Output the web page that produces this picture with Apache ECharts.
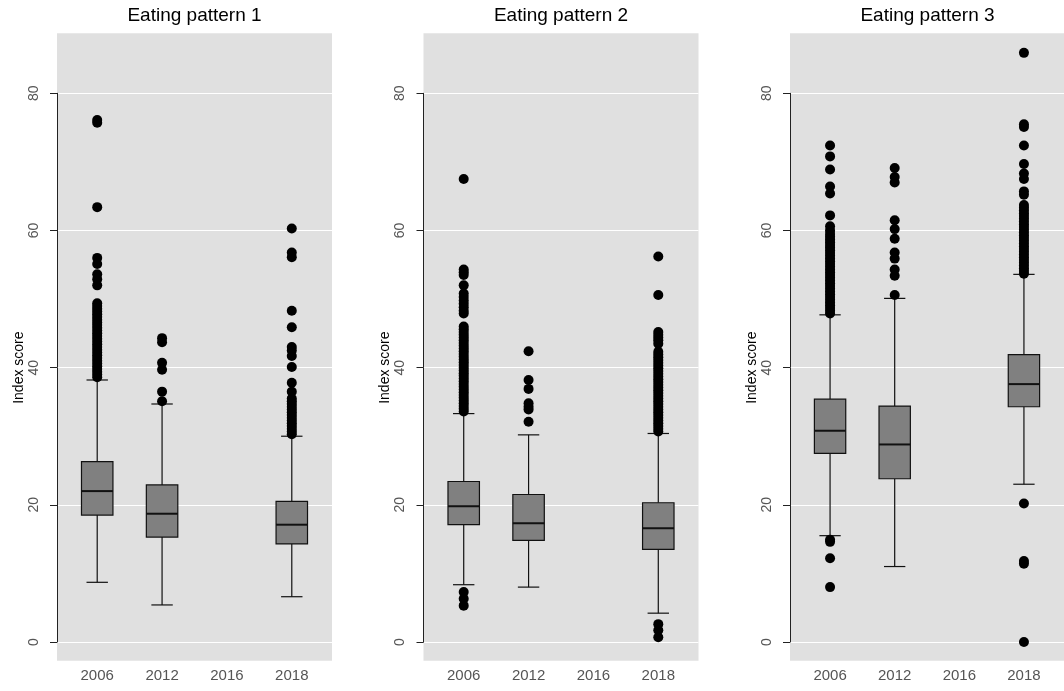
<!DOCTYPE html>
<html>
<head>
<meta charset="utf-8">
<script src="https://cdn.jsdelivr.net/npm/echarts@6/dist/echarts.min.js"></script>
<style>
html, body { margin: 0; padding: 0; background: #fff; }
#chart { width: 1064px; height: 691px; }
</style>
</head>
<body>
<div id="chart"></div>
<script>
var years = ['2006', '2012', '2016', '2018'];
var panelTitles = ['Eating pattern 1', 'Eating pattern 2', 'Eating pattern 3'];

// [year, lower whisker, Q1, median, Q3, upper whisker]
var boxes1 = [
    ['2006', 8.7, 18.5, 22.0, 26.3, 38.2],
    ['2012', 5.4, 15.3, 18.7, 22.9, 34.7],
    ['2018', 6.6, 14.3, 17.1, 20.5, 30.0]
];
var boxes2 = [
    ['2006', 8.35, 17.1, 19.8, 23.4, 33.3],
    ['2012', 8.0, 14.8, 17.3, 21.5, 30.2],
    ['2018', 4.2, 13.5, 16.6, 20.3, 30.4]
];
var boxes3 = [
    ['2006', 15.5, 27.5, 30.8, 35.4, 47.7],
    ['2012', 11.0, 23.8, 28.8, 34.4, 50.1],
    ['2018', 23.0, 34.3, 37.6, 41.9, 53.6]
];

var outliers1 = {
    '2006': [76.1, 75.7, 63.4, 56.0, 55.1, 53.6, 52.9, 52.0, 49.4, 49.0, 48.6, 48.2, 47.8, 47.4, 47.0, 46.6,
        46.2, 45.8, 45.4, 45.0, 44.6, 44.2, 43.8, 43.4, 43.0, 42.6, 42.2, 41.8, 41.4, 41.0, 40.6, 40.2,
        39.8, 39.4, 39.0, 38.6],
    '2012': [44.3, 43.7, 40.7, 39.7, 36.5, 35.1],
    '2018': [60.3, 56.8, 56.1, 48.3, 45.9, 43.0, 42.5, 41.7, 40.1, 37.8, 36.5, 35.5, 35.1, 34.7, 34.3,
        33.9, 33.5, 33.1, 32.7, 32.3, 31.9, 31.5, 31.1, 30.7, 30.3]
};
var outliers2 = {
    '2006': [67.5, 54.3, 53.9, 53.5, 52.0, 50.8, 50.3, 49.8, 49.3, 48.8, 48.3, 47.9, 46.0, 45.6, 45.2,
        44.8, 44.4, 44.0, 43.6, 43.2, 42.8, 42.4, 42.0, 41.6, 41.2, 40.8, 40.4, 40.0, 39.6, 39.2, 38.8,
        38.4, 38.0, 37.6, 37.2, 36.8, 36.4, 36.0, 35.6, 35.2, 34.8, 34.4, 34.0, 33.6, 7.3, 6.3, 5.3],
    '2012': [42.4, 38.2, 36.9, 34.8, 34.3, 33.9, 32.1],
    '2018': [56.2, 50.6, 45.2, 44.8, 44.4, 44.0, 43.5, 42.3, 41.9, 41.5, 41.1, 40.7, 40.3, 39.9, 39.5,
        39.1, 38.7, 38.3, 37.9, 37.5, 37.1, 36.7, 36.3, 35.9, 35.5, 35.1, 34.7, 34.3, 33.9, 33.5, 33.1,
        32.7, 32.3, 31.9, 31.5, 31.1, 30.7, 2.6, 1.7, 0.7]
};
var outliers3 = {
    '2006': [72.4, 70.8, 68.9, 66.4, 65.4, 62.2, 60.6, 60.0, 59.5, 59.1, 58.7, 58.3, 57.9, 57.5, 57.1,
        56.7, 56.3, 55.9, 55.5, 55.1, 54.7, 54.3, 53.9, 53.5, 53.1, 52.7, 52.3, 51.9, 51.5, 51.1, 50.7,
        50.3, 49.9, 49.5, 49.1, 48.7, 48.3, 47.9, 14.9, 14.6, 12.2, 8.0],
    '2012': [69.1, 67.8, 67.0, 61.5, 60.2, 58.8, 56.8, 55.9, 54.3, 53.4, 50.6],
    '2018': [85.9, 75.5, 75.1, 72.4, 69.7, 68.3, 67.5, 65.7, 65.2, 63.7, 63.3, 62.9, 62.5, 62.1, 61.7,
        61.3, 60.9, 60.5, 60.1, 59.7, 59.3, 58.9, 58.5, 58.1, 57.7, 57.3, 56.9, 56.5, 56.1, 55.7, 55.3,
        54.9, 54.5, 54.1, 53.7, 20.2, 11.8, 11.4, 0.0]
};

var panels = [
    { title: panelTitles[0], boxes: boxes1, outliers: outliers1 },
    { title: panelTitles[1], boxes: boxes2, outliers: outliers2 },
    { title: panelTitles[2], boxes: boxes3, outliers: outliers3 }
];

var FONT = 'Liberation Sans, Arial, Helvetica, sans-serif';
var panelLeft = [57, 423.5, 790];
var panelWidth = 275;

function renderBox(params, api) {
    var x = api.value(0);
    var lo = api.coord([x, api.value(1)]);
    var q1 = api.coord([x, api.value(2)]);
    var med = api.coord([x, api.value(3)]);
    var q3 = api.coord([x, api.value(4)]);
    var hi = api.coord([x, api.value(5)]);
    var halfBox = api.size([0.485, 0])[0] / 2;
    var halfCap = api.size([0.33, 0])[0] / 2;
    var cx = med[0];
    var line = { stroke: '#111', lineWidth: 1.2 };
    return {
        type: 'group',
        children: [
            { type: 'line', shape: { x1: cx, y1: hi[1], x2: cx, y2: q3[1] }, style: line },
            { type: 'line', shape: { x1: cx, y1: q1[1], x2: cx, y2: lo[1] }, style: line },
            { type: 'line', shape: { x1: cx - halfCap, y1: hi[1], x2: cx + halfCap, y2: hi[1] }, style: line },
            { type: 'line', shape: { x1: cx - halfCap, y1: lo[1], x2: cx + halfCap, y2: lo[1] }, style: line },
            { type: 'rect', shape: { x: cx - halfBox, y: q3[1], width: 2 * halfBox, height: q1[1] - q3[1] },
              style: { fill: '#808080', stroke: '#111', lineWidth: 1.2 } },
            { type: 'line', shape: { x1: cx - halfBox, y1: med[1], x2: cx + halfBox, y2: med[1] },
              style: { stroke: '#111', lineWidth: 2 } }
        ]
    };
}

var grids = [], xAxes = [], yAxes = [], series = [], titles = [];
panels.forEach(function (p, i) {
    var L = panelLeft[i];
    titles.push({
        text: p.title, left: L + panelWidth / 2, top: 6, textAlign: 'center', padding: 0,
        textStyle: { fontSize: 19, fontWeight: 'normal', color: '#000', fontFamily: FONT }
    });
    // data grid (grey panel)
    grids.push({ left: L, top: 33.3, width: panelWidth, height: 627.4, show: true,
        backgroundColor: '#e0e0e0', borderWidth: 0 });
    // axis grid: spans 0..80 only, like the base R axis
    grids.push({ left: L, top: 93.3, width: panelWidth, height: 548.7, show: false });

    xAxes.push({
        gridIndex: 2 * i, type: 'value', min: 0.38, max: 4.62,
        axisLine: { show: false }, axisTick: { show: false }, splitLine: { show: false },
        axisLabel: {
            customValues: [1, 2, 3, 4],
            formatter: function (v) { return years[Math.round(v) - 1]; },
            margin: 8, fontSize: 15, color: '#555', fontFamily: FONT
        }
    });
    xAxes.push({ gridIndex: 2 * i + 1, type: 'value', min: 0, max: 1, show: false });

    yAxes.push({ gridIndex: 2 * i, type: 'value', min: -2.73, max: 88.75, show: false });
    yAxes.push({
        gridIndex: 2 * i + 1, type: 'value', min: 0, max: 80, interval: 20, offset: 2,
        name: 'Index score', nameLocation: 'middle', nameGap: 29,
        nameTextStyle: { fontSize: 14, color: '#000', fontFamily: FONT },
        axisLine: { show: true, lineStyle: { color: '#222', width: 1 } },
        axisTick: { show: true, length: 7, lineStyle: { color: '#222' } },
        axisLabel: { rotate: 90, margin: 14, fontSize: 14, color: '#555', fontFamily: FONT },
        splitLine: { show: true, lineStyle: { color: '#fff', width: 1 } }
    });

    series.push({
        type: 'custom', xAxisIndex: 2 * i, yAxisIndex: 2 * i,
        renderItem: renderBox,
        encode: { x: 0, y: [1, 2, 3, 4, 5] },
        data: p.boxes.map(function (b) {
            return [years.indexOf(b[0]) + 1, b[1], b[2], b[3], b[4], b[5]];
        })
    });

    var pts = [];
    Object.keys(p.outliers).forEach(function (yr) {
        p.outliers[yr].forEach(function (v) { pts.push([years.indexOf(yr) + 1, v]); });
    });
    series.push({
        type: 'scatter', xAxisIndex: 2 * i, yAxisIndex: 2 * i,
        symbol: 'circle', symbolSize: 10,
        itemStyle: { color: '#000', opacity: 1 },
        data: pts
    });
});

var chart = echarts.init(document.getElementById('chart'));
chart.setOption({
    animation: false,
    title: titles,
    grid: grids,
    xAxis: xAxes,
    yAxis: yAxes,
    series: series
});
</script>
</body>
</html>
